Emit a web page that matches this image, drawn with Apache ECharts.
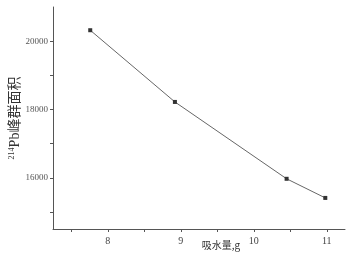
<!DOCTYPE html>
<html><head><meta charset="utf-8">
<script src="https://cdn.jsdelivr.net/npm/echarts@6/dist/echarts.min.js"></script>
<style>html,body{margin:0;padding:0;background:#fff}#c{width:357px;height:255px}</style>
</head><body><div id="c"></div>
<script>
var xValues = [7.76, 8.92, 10.45, 10.98];
var yValues = [20320, 18220, 15970, 15410];
var xMajorTicks = [8, 9, 10, 11];
var xMinorTicks = [7.5, 8.5, 9.5, 10.5];
var yMajorTicks = [16000, 18000, 20000];
var yMinorTicks = [15000, 17000, 19000];
var xName = '吸水量,g';

var chart = echarts.init(document.getElementById('c'));
var serif = '"Liberation Serif","DejaVu Serif",serif';
var axCol = '#555';
function plain(v) { return String(v); }
function xAxisDef(ticks, labels, len, show) {
  return {
    type: 'value', min: 7.25, max: 11.25, position: 'bottom',
    axisLine: {show: show, lineStyle: {color: axCol, width: 1}},
    splitLine: {show: false},
    axisTick: {show: true, length: len, inside: false, customValues: ticks, lineStyle: {color: axCol}},
    axisLabel: {show: labels, customValues: xMajorTicks, formatter: plain, color: '#444', fontFamily: serif, fontSize: 10, margin: 7},
    name: labels ? xName : '', nameLocation: 'middle', nameGap: 11, nameMoveOverlap: false,
    nameTextStyle: {fontFamily: '"Noto Sans CJK SC"', fontSize: 10, color: '#333', padding: [0, 0, 0, 44]}
  };
}
function yAxisDef(ticks, labels, len, show) {
  return {
    type: 'value', min: 14500, max: 21000, position: 'left',
    axisLine: {show: show, lineStyle: {color: axCol, width: 1}},
    splitLine: {show: false},
    axisTick: {show: true, length: len, inside: false, customValues: ticks, lineStyle: {color: axCol}},
    axisLabel: {show: labels, customValues: yMajorTicks, formatter: plain, color: '#555', fontFamily: serif, fontSize: 9, margin: 5},
    name: labels ? '{s|214}{b|Pb峰群面积}' : '', nameLocation: 'middle', nameRotate: 90, nameGap: 31, nameMoveOverlap: false,
    nameTextStyle: {rich: {
      s: {fontFamily: serif, fontSize: 8, color: '#333', verticalAlign: 'top', padding: [0,0,6,0]},
      b: {fontFamily: '"Liberation Serif","Noto Sans CJK SC"', fontSize: 14, color: '#333'}
    }}
  };
}
chart.setOption({
  animation: false,
  grid: {left: 53, right: 12, top: 7, bottom: 26, containLabel: false, outerBoundsMode: 'none'},
  xAxis: [xAxisDef(xMajorTicks, true, 3, true), xAxisDef(xMinorTicks, false, 3, false)],
  yAxis: [yAxisDef(yMajorTicks, true, 3, true), yAxisDef(yMinorTicks, false, 3, false)],
  series: [{
    type: 'line', xAxisIndex: 0, yAxisIndex: 0,
    data: xValues.map(function (x, i) { return [x, yValues[i]]; }),
    symbol: 'rect', symbolSize: 4, showSymbol: true,
    itemStyle: {color: '#333'},
    lineStyle: {color: '#666', width: 1}
  }]
});
</script></body></html>
